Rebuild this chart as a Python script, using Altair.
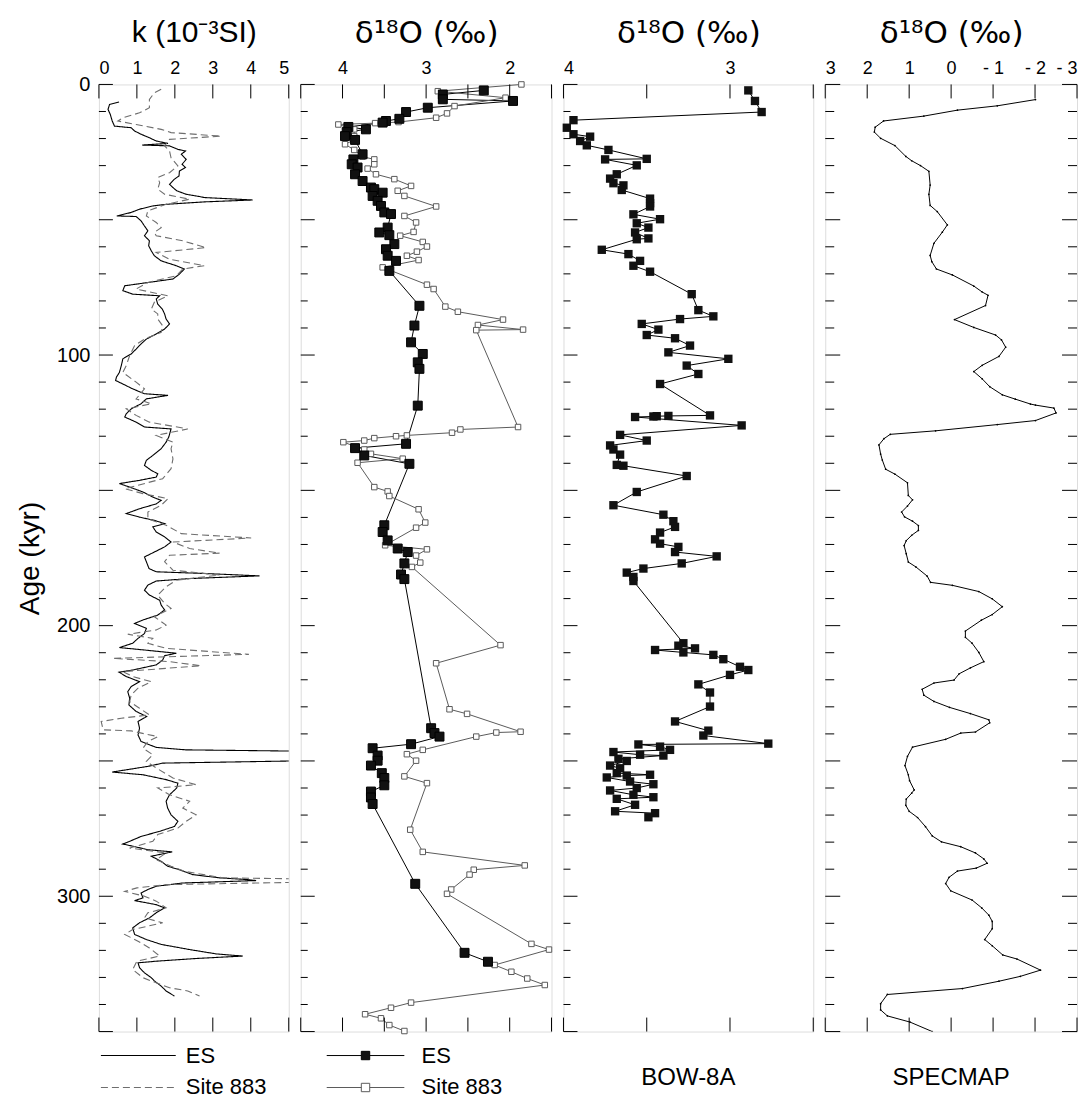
import altair as alt
import pandas as pd

# ---------------- data ----------------
K_ES_AGE = [6.5,7.4,9.2,11.1,13.5,15.4,16.0,17.2,18.4,19.7,20.9,21.8,22.4,22.7,24.0,24.6,25.8,27.7,29.5,30.7,
            32.0,33.8,35.0,36.9,38.1,39.3,40.6,41.2,41.8,42.7,43.4,44.3,44.9,46.1,47.3,48.6,48.8,50.4,52.3,54.1,
            55.9,57.8,59.6,61.5,63.3,65.2,67.0,68.2,70.1,71.9,73.2,74.4,76.2,77.5,78.1,79.3,81.2,83.0,84.8,86.7,
            88.5,90.4,92.2,94.1,95.9,97.8,99.6,101.4,103.9,106.4,108.2,109.4,110.7,112.5,114.3,114.9,116.2,118.0,
            119.9,121.7,122.9,124.8,126.6,127.3,130.3,132.2,134.6,137.1,138.9,140.8,142.6,143.9,145.1,146.3,147.5,
            148.8,150.6,152.5,153.7,155.0,156.8,158.6,159.9,161.1,162.3,163.5,165.4,167.2,169.1,170.9,172.8,174.6,
            176.4,178.9,180.1,180.7,181.6,182.6,183.5,185.0,186.9,188.7,190.6,192.4,194.2,196.1,197.9,199.2,201.0,
            202.9,204.7,206.5,208.1,209.0,210.2,211.1,212.7,214.5,216.4,217.2,218.8,220.7,222.5,224.4,226.8,229.3,
            231.7,233.6,235.4,237.9,240.4,242.8,245.0,245.9,246.5,249.8,250.8,252.0,254.1,255.1,256.9,258.2,260.0,
            262.5,264.9,267.4,269.9,272.3,274.2,276.0,277.9,279.7,280.7,281.5,282.8,283.6,285.2,287.1,288.9,290.2,
            292.0,293.2,293.8,294.2,295.1,296.3,297.5,298.8,300.6,301.6,303.1,304.3,306.1,308.0,309.8,311.7,314.1,
            316.0,317.8,319.7,321.3,322.1,323.0,324.0,324.6,326.4,328.3,330.1,331.3,333.2,335.0,336.9]
K_ES_VAL = [0.53,0.28,0.24,0.30,0.35,0.41,0.85,0.94,1.11,1.33,1.51,1.82,1.14,1.86,2.08,2.28,2.17,2.30,2.19,2.28,
            2.12,2.11,1.99,1.86,1.95,2.05,2.30,2.56,2.78,4.05,2.78,1.77,1.42,1.07,0.85,0.47,0.98,1.11,1.20,1.29,
            1.20,1.33,1.31,1.38,1.46,1.64,2.04,2.25,2.12,1.95,1.29,0.68,0.63,0.89,1.60,1.51,1.55,1.67,1.73,1.77,
            1.86,1.73,1.51,1.25,1.11,0.98,0.85,0.63,0.59,0.54,0.46,0.44,0.63,0.89,1.20,1.82,1.25,1.11,
            0.85,0.72,0.68,0.98,1.20,1.90,1.84,1.77,1.64,1.42,1.25,1.20,1.38,1.55,1.51,1.07,0.54,
            0.81,1.16,1.42,1.64,1.51,1.07,0.72,1.07,1.46,1.73,1.42,1.51,1.73,1.90,1.73,1.46,1.20,
            1.25,1.32,1.51,2.74,4.23,2.39,1.51,1.29,1.20,1.33,1.60,1.64,1.73,1.55,1.16,0.94,1.25,
            1.20,1.03,0.89,0.54,1.20,2.04,1.73,1.68,1.51,0.89,0.53,0.72,1.07,0.85,0.76,0.81,0.79,
            0.98,1.26,1.03,1.07,1.03,1.11,1.51,2.30,6.0,6.0,1.68,1.29,0.35,1.16,1.77,2.08,2.05,
            1.86,1.77,1.81,1.90,2.08,1.99,1.60,1.11,0.81,0.63,0.89,1.29,1.93,1.38,1.64,1.81,2.12,
            2.47,3.18,3.88,4.14,2.21,1.51,1.29,1.11,1.16,0.94,1.51,1.73,1.51,1.33,1.07,0.89,0.94,
            1.25,1.64,2.39,3.09,3.79,2.56,1.51,1.03,1.07,1.20,1.38,1.46,1.64,1.77,1.99]

K_883_AGE = [1.8,3.1,5.5,8.6,10.5,12.3,13.5,14.8,16.6,17.8,19.1,20.3,22.7,24.6,27.1,30.1,32.6,34.4,36.3,38.7,
             40.6,42.4,44.3,46.7,48.6,51.0,52.9,54.7,55.9,57.8,60.3,62.1,64.6,67.0,68.2,70.7,73.2,75.6,78.1,80.5,
             83.0,84.8,86.7,89.2,91.6,94.1,96.5,100.2,103.9,106.4,110.0,112.5,116.2,118.0,119.9,122.3,124.8,127.3,
             129.7,132.2,134.6,138.4,142.0,145.7,149.4,151.2,153.1,155.5,158.0,160.5,162.9,166.0,167.6,169.1,171.5,
             173.2,174.0,176.4,179.5,181.3,183.2,185.6,188.7,191.8,193.6,196.7,199.8,201.6,203.2,204.7,206.5,208.4,
             210.6,212.1,213.3,214.8,217.0,218.8,220.7,223.1,225.6,228.1,230.5,233.0,234.2,235.4,238.5,238.9,241.0,
             242.8,245.3,247.7,250.2,252.6,256.3,258.8,260.0,262.5,264.9,267.4,269.9,272.3,274.8,277.2,279.7,282.2,
             284.0,286.5,288.9,290.8,293.2,293.6,294.8,295.7,296.9,298.2,300.0,301.8,304.3,306.1,308.0,309.8,312.3,
             314.1,316.6,319.1,322.1,324.0,327.1,330.1,332.0,333.8,335.0,336.9]
K_883_VAL = [1.64,1.46,1.33,1.33,1.07,0.63,0.50,0.98,1.64,1.90,3.22,1.86,1.73,1.86,1.90,2.08,1.86,1.55,1.60,1.55,
             1.73,2.39,1.77,1.29,1.25,1.51,1.64,1.46,1.51,2.21,2.82,1.51,1.86,2.78,2.21,2.04,1.29,0.98,1.82,1.46,
             1.38,1.55,1.55,1.68,1.64,1.20,0.94,0.81,0.72,0.63,0.98,1.20,0.98,1.38,0.72,0.98,1.33,2.34,
             1.51,1.95,1.90,1.95,1.90,1.68,0.68,1.16,1.82,1.64,1.29,1.29,1.77,2.17,4.01,1.95,2.39,
             3.18,1.86,1.73,1.95,3.18,2.04,1.77,1.55,1.73,1.90,1.46,1.77,1.51,0.76,1.42,1.29,1.77,
             3.95,0.37,1.86,2.69,0.63,0.89,1.38,1.03,0.85,0.81,1.07,1.33,0.59,0.06,0.11,0.85,1.55,
             1.29,1.16,1.42,1.25,1.51,1.95,2.56,1.55,1.86,2.39,2.21,2.56,2.30,2.08,1.55,1.42,0.81,
             1.77,1.51,1.90,2.25,3.26,5.4,5.4,1.77,1.00,0.68,1.20,1.51,1.77,1.29,1.20,1.68,0.89,
             0.68,1.03,1.33,1.60,1.00,0.89,1.16,1.51,1.86,2.34,2.65]

O_ES_AGE = [2.2,3.7,5.5,6.1,8.6,10.2,12.7,13.5,14.1,15.7,16.6,17.6,19.1,20.5,25.8,27.7,29.5,30.7,33.2,35.7,
            38.1,38.7,40.0,41.2,43.0,44.9,47.3,47.9,52.9,54.7,55.7,59.0,60.9,63.3,65.2,68.9,81.8,89.1,95.3,99.6,
            102.7,105.1,118.7,132.8,134.4,137.1,140.2,162.9,165.4,168.5,171.5,172.8,177.0,181.1,182.8,237.9,239.7,
            241.0,243.8,245.3,248.0,249.9,251.7,254.5,256.3,259.0,261.3,263.5,265.9,295.4,320.9,324.2]
O_ES_VAL = [2.31,2.80,2.80,1.96,2.98,3.24,3.32,3.48,3.52,3.93,3.72,3.95,3.97,3.85,3.76,3.87,3.89,3.82,3.85,3.76,
            3.66,3.62,3.52,3.64,3.58,3.54,3.50,3.42,3.46,3.56,3.44,3.38,3.48,3.46,3.36,3.44,3.08,3.14,3.18,3.04,
            3.10,3.08,3.10,3.24,3.85,3.74,3.20,3.50,3.52,3.46,3.34,3.22,3.26,3.30,3.26,2.94,2.90,
            2.84,3.18,3.64,3.58,3.58,3.66,3.53,3.50,3.50,3.66,3.66,3.64,3.13,2.54,2.26]

O_883_AGE = [0.0,2.5,4.9,8.0,10.7,12.3,13.9,14.3,14.8,16.6,19.1,20.5,22.1,24.2,26.7,27.7,29.5,31.1,33.2,35.0,
             37.5,39.3,41.2,45.1,48.6,51.0,54.5,55.9,58.2,59.9,61.8,63.3,64.9,67.6,74.0,75.6,82.1,84.0,86.9,88.9,
             90.6,90.8,126.6,127.5,128.7,129.7,130.0,130.7,131.6,132.2,134.9,136.5,138.3,139.8,148.8,150.4,152.1,
             157.0,161.9,163.8,170.3,171.8,174.1,176.7,178.3,207.2,213.9,230.9,232.6,239.2,239.5,241.0,245.9,247.5,
             249.9,255.7,258.2,275.4,283.6,288.6,290.2,292.0,297.5,299.1,317.6,319.7,325.4,327.9,330.4,332.8,
             339.3,341.2,343.6,345.1,347.6,349.8]
O_883_VAL = [1.86,2.86,2.05,2.66,2.75,2.88,3.33,3.61,4.05,3.86,3.86,3.86,3.97,3.86,3.76,3.62,3.62,3.70,3.60,3.38,
             3.18,3.34,3.26,2.88,3.26,3.12,3.15,3.31,3.04,2.99,3.11,3.23,3.09,3.52,2.99,2.91,2.77,2.62,2.08,2.38,
             1.84,2.40,1.90,2.59,2.69,3.23,3.36,3.62,3.74,3.99,3.74,3.66,3.28,3.82,3.62,3.46,3.44,
             3.09,3.01,3.12,3.49,2.99,3.12,3.07,3.17,2.11,2.88,2.72,2.51,1.87,2.16,2.40,3.04,3.23,
             3.12,3.26,2.99,3.19,3.04,1.82,2.43,2.48,2.70,2.75,1.74,1.53,2.18,1.98,1.79,1.58,
             3.18,3.42,3.73,3.54,3.44,3.26]

BOW_AGE = [2.2,6.1,10.2,13.2,16.0,18.4,19.3,20.9,22.5,24.2,27.5,27.7,29.9,33.2,34.8,36.5,37.3,39.0,42.2,43.9,
           45.1,48.0,49.8,51.3,52.9,54.7,56.9,57.2,61.1,62.7,65.2,67.0,69.2,77.5,83.4,85.7,86.7,88.5,90.6,92.6,
           93.8,96.5,99.0,101.4,103.9,107.0,110.7,122.3,122.5,122.6,122.7,122.9,126.0,129.5,131.6,133.4,134.9,
           136.8,140.6,140.9,144.7,150.6,155.5,159.0,161.4,163.5,165.6,168.1,169.7,170.9,172.8,174.4,177.0,178.9,
           180.4,182.0,183.5,206.5,207.4,208.4,209.0,209.9,210.8,212.4,215.2,216.4,218.2,221.7,224.7,229.9,235.4,
           238.8,240.6,243.6,243.9,244.7,245.9,246.7,247.7,248.0,249.2,250.0,251.7,252.7,254.5,255.1,255.4,256.1,
           257.6,258.6,260.0,260.9,262.5,263.4,264.0,266.2,268.6,269.3,270.8]
BOW_VAL = [2.89,2.85,2.81,3.94,3.98,3.94,3.84,3.90,3.86,3.73,3.50,3.75,3.56,3.68,3.72,3.70,3.64,3.65,3.48,3.48,
           3.48,3.58,3.42,3.56,3.49,3.57,3.49,3.56,3.77,3.61,3.54,3.58,3.48,3.23,3.19,3.10,3.30,3.53,3.43,3.50,
           3.33,3.24,3.37,3.01,3.26,3.19,3.42,3.12,3.37,3.44,3.46,3.57,2.93,3.66,3.50,3.72,3.70,
           3.66,3.68,3.64,3.26,3.56,3.70,3.40,3.34,3.33,3.42,3.45,3.42,3.31,3.33,3.08,3.29,3.52,
           3.62,3.58,3.58,3.28,3.31,3.21,3.45,3.28,3.10,3.04,2.94,2.89,3.00,3.19,3.12,3.12,3.33,
           3.13,3.16,2.77,3.55,3.42,3.36,3.70,3.54,3.40,3.67,3.62,3.72,3.66,3.68,3.48,3.62,3.74,
           3.60,3.46,3.56,3.72,3.58,3.46,3.68,3.57,3.69,3.45,3.49]

SPEC_AGE = [5.6,7.9,9.5,11.7,13.5,15.8,17.6,19.9,22.6,26.6,28.2,30.0,32.1,37.2,40.6,44.7,47.0,51.9,54.6,58.7,
            63.2,65.5,68.2,70.4,74.5,76.7,77.9,81.7,86.9,89.8,92.6,94.4,97.1,100.5,103.8,106.1,108.8,111.7,114.7,
            116.3,118.1,118.5,119.6,121.4,124.2,125.7,128.0,129.3,130.9,133.2,136.6,138.8,142.2,144.0,147.2,151.9,
            153.5,155.8,158.0,159.8,161.4,163.0,164.8,166.6,168.6,170.4,173.4,176.5,178.3,181.7,184.0,185.1,187.4,
            190.1,193.0,195.9,198.0,202.0,204.3,206.5,209.9,213.3,215.6,217.8,220.1,221.2,223.5,225.7,228.0,230.2,
            232.5,234.8,235.9,239.3,239.7,242.0,244.9,248.3,251.7,255.1,257.3,260.7,261.9,264.1,266.4,268.6,270.9,
            274.3,277.7,279.9,281.7,284.0,286.2,287.8,289.6,290.7,293.0,295.3,298.0,301.4,304.3,307.0,309.3,312.0,
            316.0,318.3,321.7,323.2,327.3,329.6,331.4,334.1,336.3,339.7,342.0,344.2,346.5,350.0]
SPEC_VAL = [-2.01,-1.10,-0.15,0.65,1.61,1.81,1.83,1.68,1.34,1.08,0.94,0.73,0.53,0.50,0.53,0.50,0.33,0.09,0.21,0.41,
            0.50,0.46,0.35,-0.03,-0.54,-0.74,-0.88,-0.82,-0.08,-0.54,-1.06,-1.20,-1.30,-1.14,-0.74,-0.54,-0.74,-0.92,-1.22,
            -1.53,-1.89,-2.01,-2.45,-2.50,-2.01,-1.10,0.37,1.45,1.60,1.72,1.68,1.64,1.56,1.34,1.04,1.02,
            0.92,1.04,1.18,1.11,0.92,0.78,0.78,0.94,1.07,1.12,1.07,1.02,0.84,0.57,0.49,-0.03,-0.66,
            -0.98,-1.22,-0.98,-0.72,-0.34,-0.34,-0.50,-0.66,-0.78,-0.46,-0.19,-0.07,0.41,0.69,0.65,0.41,0.04,
            -0.46,-0.90,-0.92,-0.58,-0.23,0.13,0.92,1.04,1.10,1.02,0.99,0.88,0.94,1.07,1.08,1.00,0.80,
            0.61,0.45,0.23,-0.23,-0.58,-0.78,-0.86,-0.60,-0.15,0.05,0.13,0.01,-0.50,-0.73,-0.90,-0.98,-0.98,
            -0.80,-0.98,-1.23,-1.57,-2.13,-1.65,-1.14,-0.27,1.52,1.68,1.68,1.52,0.98,0.45]

TICKS_K = [0, 1, 2, 3, 4, 5]
TICKS_O2 = [4.5, 4, 3.5, 3, 2.5, 2, 1.5]
LABELS_O2 = [4, 3, 2]
TICKS_O3 = [4, 3.5, 3, 2.5]
LABELS_O3 = [4, 3]
TICKS_S = [3, 2, 1, 0, -1, -2, -3]
AGE_LABELS = [0, 100, 200, 300]
AGE_MINOR = [v for v in range(0, 351, 10) if v % 50 != 0]
AGE_MAJOR = list(range(0, 351, 50))

# ---------------- layout / style ----------------
H = 948
W1, W2, W3, W4 = 190, 251, 250, 252
FONT = "Liberation Sans, Arial, Helvetica, sans-serif"
WIDE = "DejaVu Sans, Liberation Sans, sans-serif"
NARROW = "Liberation Sans Narrow, Liberation Sans, Arial, sans-serif"
SER = ["ES", "Site 883"]
D18O = "δ¹⁸O (‰)"

ys = alt.Scale(domain=[0, 350], reverse=True, nice=False, zero=False)


def top_axis(values, title, label_expr=None, title_font=FONT, title_size=30, title_pad=12):
    kw = dict(orient="top", values=values, ticks=False, tickSize=0, domain=False, grid=False,
              labelFontSize=18, labelFont=FONT, labelColor="black", labelPadding=7,
              labelAngle=0, title=title, titleFontSize=title_size, titleFont=title_font,
              titleFontWeight="normal", titleColor="black", titlePadding=title_pad)
    if label_expr:
        kw["labelExpr"] = label_expr
    return alt.Axis(**kw)


def d18o_axis(values, label_expr=None):
    return top_axis(values, D18O, label_expr=label_expr, title_font=WIDE, title_size=31, title_pad=10)


def tick_layers(xscale, xaxis, xticks, width, yaxis, right=False, minor_len=7, major_len=14):
    dmin = pd.DataFrame({"t": AGE_MINOR})
    dmaj = pd.DataFrame({"t": AGE_MAJOR})
    dx = pd.DataFrame({"v": xticks})
    ly = []
    for d, ln in ((dmin, minor_len), (dmaj, major_len)):
        ly.append(alt.Chart(d).mark_rule(color="black", strokeWidth=1).encode(
            y=alt.Y("t:Q", scale=ys, axis=yaxis), x=alt.value(0), x2=alt.value(ln)))
        if right:
            ly.append(alt.Chart(d).mark_rule(color="black", strokeWidth=1).encode(
                y=alt.Y("t:Q", scale=ys, axis=yaxis), x=alt.value(width), x2=alt.value(width - ln)))
    ly.append(alt.Chart(dx).mark_rule(color="black", strokeWidth=1).encode(
        x=alt.X("v:Q", scale=xscale, axis=xaxis), y=alt.value(0), y2=alt.value(14)))
    ly.append(alt.Chart(dx).mark_rule(color="black", strokeWidth=1).encode(
        x=alt.X("v:Q", scale=xscale, axis=xaxis), y=alt.value(H), y2=alt.value(H - 14)))
    return ly


# legend symbols: a size-196 symbol is drawn at 7 px per path unit,
# so rows stay compact while the sample lines are long
LEG_SIZE = 196
PATH_LINE = "M-1,0H9.7"
PATH_LINE_SQ = "M-1,0H3.95M5.15,0H10.1M3.95,-0.6H5.15V0.6H3.95Z"

# ---------------- panel 1: susceptibility ----------------
df_k = pd.DataFrame({
    "age": K_ES_AGE + K_883_AGE,
    "k": K_ES_VAL + K_883_VAL,
    "series": ["ES"] * len(K_ES_AGE) + ["Site 883"] * len(K_883_AGE),
})
xs1 = alt.Scale(domain=[0, 5], nice=False, zero=False)
xa1 = top_axis(TICKS_K, "k (10⁻³SI)")
ya1 = alt.Axis(values=AGE_LABELS, ticks=False, tickSize=0, domain=False, grid=False,
               labelFontSize=20, labelFont=FONT, labelColor="black", labelPadding=9,
               title="Age (kyr)", titleFontSize=28, titleFont=FONT, titleFontWeight="normal",
               titleColor="black", titlePadding=12)
leg1 = alt.Legend(orient="none", legendX=-2, legendY=H + 13, direction="vertical", title=None,
                  symbolType=PATH_LINE, symbolSize=LEG_SIZE, symbolStrokeWidth=1.1,
                  labelFontSize=22, labelFont=NARROW, labelColor="black", labelOffset=67,
                  rowPadding=10, labelLimit=300)
k_line = alt.Chart(df_k).mark_line(clip=True, strokeWidth=1.1).encode(
    x=alt.X("k:Q", scale=xs1, axis=xa1),
    y=alt.Y("age:Q", scale=ys, axis=ya1),
    stroke=alt.Stroke("series:N", scale=alt.Scale(domain=SER, range=["black", "#6e6e6e"]), legend=leg1),
    strokeDash=alt.StrokeDash("series:N", scale=alt.Scale(domain=SER, range=[[1, 0], [7, 4]]), legend=leg1),
    order=alt.Order("age:Q"),
)
p1 = alt.layer(k_line, *tick_layers(xs1, xa1, TICKS_K, W1, ya1)).properties(width=W1, height=H)

# ---------------- panel 2: d18O ES / Site 883 ----------------
df_o = pd.DataFrame({
    "age": O_ES_AGE + O_883_AGE,
    "d18o": O_ES_VAL + O_883_VAL,
    "series": ["ES"] * len(O_ES_AGE) + ["Site 883"] * len(O_883_AGE),
})
xs2 = alt.Scale(domain=[1.5, 4.5], reverse=True, nice=False, zero=False)
xa2 = d18o_axis(LABELS_O2)
leg2 = alt.Legend(orient="none", legendX=22, legendY=H + 13, direction="vertical", title=None,
                  symbolType=PATH_LINE_SQ, symbolSize=LEG_SIZE, symbolStrokeWidth=1,
                  labelFontSize=22, labelFont=NARROW, labelColor="black", labelOffset=77,
                  rowPadding=10, labelLimit=300)
stroke2 = alt.Stroke("series:N", scale=alt.Scale(domain=SER, range=["black", "#5a5a5a"]), legend=leg2)
fill2 = alt.Fill("series:N", scale=alt.Scale(domain=SER, range=["#111111", "white"]), legend=leg2)
o_line = alt.Chart(df_o).mark_line(strokeWidth=1).encode(
    x=alt.X("d18o:Q", scale=xs2, axis=xa2),
    y=alt.Y("age:Q", scale=ys, axis=None),
    stroke=stroke2,
    order=alt.Order("age:Q"),
)
o_pts_883 = alt.Chart(df_o).transform_filter(alt.datum.series == "Site 883").mark_point(
    shape="square", filled=False, strokeWidth=1, opacity=1, size=30).encode(
    x=alt.X("d18o:Q", scale=xs2, axis=xa2),
    y=alt.Y("age:Q", scale=ys, axis=None),
    stroke=stroke2, fill=fill2,
)
o_pts_es = alt.Chart(df_o).transform_filter(alt.datum.series == "ES").mark_point(
    shape="square", filled=False, strokeWidth=1, opacity=1, size=80).encode(
    x=alt.X("d18o:Q", scale=xs2, axis=xa2),
    y=alt.Y("age:Q", scale=ys, axis=None),
    stroke=stroke2, fill=fill2,
)
p2 = alt.layer(o_line, o_pts_883, o_pts_es, *tick_layers(xs2, xa2, TICKS_O2, W2, None)).properties(
    width=W2, height=H)

# ---------------- panel 3: BOW-8A ----------------
df_b = pd.DataFrame({"age": BOW_AGE, "d18o": BOW_VAL})
xs3 = alt.Scale(domain=[2.5, 4], reverse=True, nice=False, zero=False)
xa3 = d18o_axis(LABELS_O3)
b_line = alt.Chart(df_b).mark_line(color="black", strokeWidth=1).encode(
    x=alt.X("d18o:Q", scale=xs3, axis=xa3), y=alt.Y("age:Q", scale=ys, axis=None), order=alt.Order("age:Q"))
b_pts = alt.Chart(df_b).mark_square(color="#111111", size=70, opacity=1).encode(
    x=alt.X("d18o:Q", scale=xs3, axis=xa3), y=alt.Y("age:Q", scale=ys, axis=None))
p3 = alt.layer(b_line, b_pts, *tick_layers(xs3, xa3, TICKS_O3, W3, None)).properties(
    width=W3, height=H,
    title=alt.TitleParams("BOW-8A", orient="bottom", anchor="middle", frame="group", fontSize=24,
                          font=NARROW, fontWeight="normal", color="black", offset=34))

# ---------------- panel 4: SPECMAP ----------------
df_s = pd.DataFrame({"age": SPEC_AGE, "d18o": SPEC_VAL})
xs4 = alt.Scale(domain=[-3, 3], reverse=True, nice=False, zero=False)
xa4 = d18o_axis(TICKS_S, label_expr="datum.value < 0 ? '- ' + abs(datum.value) : '' + datum.value")
s_line = alt.Chart(df_s).mark_line(color="black", strokeWidth=1, clip=True).encode(
    x=alt.X("d18o:Q", scale=xs4, axis=xa4), y=alt.Y("age:Q", scale=ys, axis=None), order=alt.Order("age:Q"))
s_pts = alt.Chart(df_s).mark_circle(color="black", size=3, opacity=1, clip=True).encode(
    x=alt.X("d18o:Q", scale=xs4, axis=xa4), y=alt.Y("age:Q", scale=ys, axis=None))
p4 = alt.layer(s_line, s_pts, *tick_layers(xs4, xa4, TICKS_S, W4, None, right=True,
                                            minor_len=9, major_len=15)).properties(
    width=W4, height=H,
    title=alt.TitleParams("SPECMAP", orient="bottom", anchor="middle", frame="group", fontSize=24,
                          font=NARROW, fontWeight="normal", color="black", offset=34))

chart = alt.HConcatChart(hconcat=[p1, p2, p3, p4], spacing=12, bounds="flush").resolve_scale(
    stroke="independent", strokeDash="independent", fill="independent",
    x="independent", y="independent"
).resolve_legend(
    stroke="independent", strokeDash="independent", fill="independent"
).properties(
    padding={"left": 8, "top": 8, "right": 5, "bottom": 5}
).configure_view(stroke="black", strokeWidth=1.2).configure(font=FONT, background="white")

chart.save("out.html", embed_options={"renderer": "svg", "actions": False})
